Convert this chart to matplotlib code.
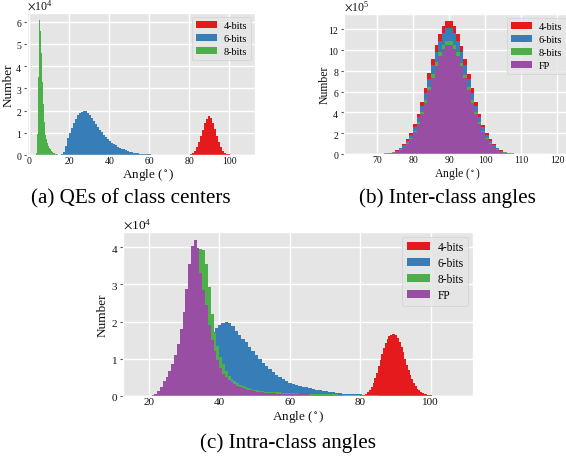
import numpy as np
import matplotlib
matplotlib.use('Agg')
import matplotlib.pyplot as plt

plt.style.use('ggplot')
plt.rcParams['font.family'] = 'serif'
plt.rcParams['font.serif'] = ['Liberation Serif', 'DejaVu Serif']
plt.rcParams['mathtext.fontset'] = 'stix'

labels = ['4-bits', '6-bits', '8-bits', 'FP']
colors = ['#e41a1c', '#377eb8', '#4daf4a', '#984ea3']

# ---- (a) QEs of class centers, counts in 1e4 ----
a_red_start, a_red_w = 77.5, 1.0
a_red = [0.005, 0.01, 0.02, 0.04, 0.1, 0.2, 0.38, 0.6, 0.86, 1.14, 1.42, 1.64, 1.74, 1.66,
         1.44, 1.15, 0.85, 0.58, 0.36, 0.2, 0.1, 0.05, 0.025, 0.012, 0.008, 0.006, 0.005,
         0.004, 0.003, 0.003]
a_blue_start, a_blue_w = 15.0, 1.0
a_blue = [0.01, 0.03, 0.15, 0.4, 0.75, 1.0, 1.22, 1.45, 1.62, 1.78, 1.88, 1.94, 1.97, 1.96,
          1.9, 1.8, 1.68, 1.54, 1.4, 1.26, 1.13, 1.02, 0.92, 0.82, 0.73, 0.64, 0.56, 0.49,
          0.43, 0.38, 0.33, 0.29, 0.25, 0.21, 0.18, 0.15, 0.13, 0.11, 0.09, 0.08, 0.06, 0.05,
          0.04, 0.035, 0.03, 0.025, 0.02, 0.018, 0.015, 0.012, 0.01, 0.008, 0.006, 0.005, 0.004]
a_green_start, a_green_w = 3.35, 0.5
a_green = [0.1, 0.93, 3.5, 6.08, 5.6, 4.6, 3.3, 2.3, 1.5, 0.9, 0.7, 0.55, 0.42, 0.32, 0.25,
           0.19, 0.15, 0.11, 0.08, 0.06, 0.04, 0.03, 0.02]

# ---- (b) Inter-class angles, counts in 1e5 ----
b_start, b_w = 64.0, 1.0
b_red = [0.003, 0.004, 0.005, 0.007, 0.01, 0.015, 0.025,
         0.04, 0.08, 0.14, 0.23, 0.39, 0.61, 0.95, 1.41, 2.04, 2.84, 3.84, 5.01, 6.33, 7.73,
         9.13, 10.44, 11.53, 12.33, 12.75, 12.78, 12.3, 11.5, 10.4, 9.1, 7.7, 6.3, 5.0, 3.82,
         2.83, 2.03, 1.4, 0.94, 0.61, 0.39, 0.23, 0.14, 0.08, 0.04,
         0.025, 0.015, 0.01, 0.007, 0.005, 0.004, 0.003, 0.003, 0.002, 0.002, 0.002, 0.002]
b_blue = [0.003, 0.004, 0.005, 0.007, 0.01, 0.015, 0.025,
          0.035, 0.065, 0.115, 0.2, 0.33, 0.54, 0.84, 1.26, 1.84, 2.59, 3.52, 4.63, 5.88, 7.22,
          8.56, 9.81, 10.87, 11.64, 12.05, 12.08, 11.62, 10.85, 9.8, 8.55, 7.2, 5.87, 4.62, 3.51,
          2.58, 1.83, 1.25, 0.83, 0.53, 0.33, 0.2, 0.115, 0.065, 0.035,
          0.025, 0.015, 0.01, 0.007, 0.005, 0.004, 0.003, 0.003, 0.002, 0.002, 0.002, 0.002]
b_green = [0.003, 0.004, 0.005, 0.007, 0.01, 0.015, 0.025,
           0.03, 0.05, 0.09, 0.16, 0.27, 0.45, 0.7, 1.07, 1.58, 2.24, 3.07, 4.06, 5.19, 6.41,
           7.64, 8.79, 9.77, 10.48, 10.85, 10.88, 10.46, 9.75, 8.78, 7.62, 6.4, 5.18, 4.05, 3.06,
           2.23, 1.57, 1.06, 0.7, 0.45, 0.27, 0.16, 0.09, 0.05, 0.03,
           0.025, 0.015, 0.01, 0.007, 0.005, 0.004, 0.003, 0.003, 0.002, 0.002, 0.002, 0.002]
b_purple = [0.003, 0.004, 0.005, 0.007, 0.01, 0.015, 0.02,
            0.023, 0.044, 0.08, 0.14, 0.25, 0.41, 0.64, 0.99, 1.47, 2.1, 2.89, 3.85, 4.94, 6.12,
            7.31, 8.44, 9.39, 10.09, 10.45, 10.48, 10.07, 9.37, 8.42, 7.3, 6.1, 4.93, 3.84, 2.88,
            2.09, 1.46, 0.98, 0.64, 0.41, 0.25, 0.14, 0.08, 0.044, 0.023,
            0.02, 0.015, 0.01, 0.007, 0.005, 0.004, 0.003, 0.003, 0.002, 0.002, 0.002, 0.002]

# ---- (c) Intra-class angles, counts in 1e4 ----
c_red_start, c_red_w = 80.0, 0.5
c_red = [0.005, 0.01, 0.03, 0.06, 0.1, 0.16, 0.24, 0.36, 0.49, 0.63, 0.8, 0.96, 1.13, 1.28,
         1.42, 1.53, 1.6, 1.64, 1.66, 1.66, 1.64, 1.56, 1.45, 1.32, 1.17, 1.0, 0.84, 0.7, 0.56,
         0.45, 0.35, 0.26, 0.2, 0.15, 0.11, 0.08, 0.06, 0.045, 0.035, 0.025, 0.018, 0.012,
         0.008, 0.006, 0.005, 0.004, 0.003, 0.003, 0.002, 0.002, 0.002, 0.002]
c_blue_start, c_blue_w = 27.3, 0.95
c_blue = [0.02, 0.04, 0.07, 0.13, 0.25, 0.42, 0.65, 0.9, 1.15, 1.38, 1.58, 1.72, 1.83, 1.92,
          1.97, 2.0, 1.96, 1.87, 1.76, 1.65, 1.54, 1.44, 1.33, 1.22, 1.11, 1.0, 0.9, 0.8, 0.72,
          0.64, 0.57, 0.51, 0.45, 0.4, 0.36, 0.33, 0.3, 0.27, 0.25, 0.23, 0.21, 0.19, 0.17,
          0.155, 0.14, 0.125, 0.11, 0.1, 0.085, 0.075, 0.065, 0.058, 0.052, 0.048, 0.045,
          0.043, 0.04, 0.038, 0.035, 0.03, 0.02]
c_green_start, c_green_w = 22.4, 0.8
c_green = [0.02, 0.05, 0.1, 0.17, 0.27, 0.4, 0.55, 0.7, 0.9, 1.15, 1.5, 1.9, 2.4, 3.0, 3.6,
           3.95, 3.92, 3.55, 2.92, 2.2, 1.7, 1.35, 1.04, 0.85, 0.68, 0.55, 0.46, 0.39, 0.34,
           0.3, 0.26, 0.23, 0.21, 0.19, 0.17, 0.15, 0.14, 0.13, 0.12, 0.115,
           0.11, 0.105, 0.1, 0.095, 0.09, 0.085, 0.08, 0.077, 0.074, 0.07, 0.067, 0.064, 0.062,
           0.06, 0.058, 0.056, 0.054, 0.052, 0.05, 0.048, 0.046, 0.045, 0.044, 0.042, 0.04,
           0.038, 0.036, 0.034, 0.032, 0.03, 0.025, 0.02]
c_purple_start, c_purple_w = 20.8, 0.8
c_purple = [0.03, 0.06, 0.13, 0.24, 0.39, 0.5, 0.67, 0.87, 1.1, 1.41, 1.8, 2.27, 2.88, 3.55,
            4.04, 4.2, 3.97, 3.3, 2.85, 2.45, 1.9, 1.5, 1.21, 0.97, 0.76, 0.6,
            0.5, 0.43, 0.37, 0.32, 0.28, 0.25, 0.22, 0.19, 0.17, 0.15, 0.135, 0.12, 0.11, 0.1,
            0.09, 0.085, 0.08, 0.07, 0.065, 0.06, 0.055,
            0.052, 0.05, 0.05, 0.048, 0.046, 0.045, 0.044, 0.043, 0.042, 0.04, 0.04, 0.038,
            0.037, 0.036, 0.035, 0.034, 0.033, 0.032, 0.03, 0.028, 0.02]

captions = ['(a) QEs of class centers', '(b) Inter-class angles', '(c) Intra-class angles']

W, H = 566, 460
fig = plt.figure(figsize=(W / 100, H / 100), dpi=100)


def px_axes(left, top, right, bottom):
    return fig.add_axes([left / W, 1 - bottom / H, (right - left) / W, (bottom - top) / H])


def hist(ax, start, width, values, scale, color, label):
    vals = np.array(values) * scale
    edges = start + width * np.arange(len(vals) + 1)
    ax.stairs(vals, edges, fill=True, color=color, lw=0, label=label)


def finish(ax, xlim, ylim, xticks, yticks, power, tick_fs, lab_fs, leg_fs, xlab_pos, ylab_x):
    ax.set_xlim(xlim)
    ax.set_ylim(ylim)
    ax.set_xticks(xticks)
    ax.set_yticks(yticks)
    ax.ticklabel_format(axis='y', style='sci', scilimits=(power, power), useMathText=True)
    ax.tick_params(labelsize=tick_fs, labelcolor='#111111', color='#555555')
    ax.tick_params(axis='x', length=0, pad=0.8)
    ax.tick_params(axis='y', length=2, pad=1.5)
    ax.yaxis.get_offset_text().set_fontsize(tick_fs + 1.5)
    ax.yaxis.get_offset_text().set_color('#111111')
    ax.grid(True, color='white', lw=1.0)
    ax.set_axisbelow(True)
    ax.set_xlabel('Angle ($^\\circ$)', fontsize=lab_fs, color='#111111')
    ax.set_ylabel('Number', fontsize=lab_fs, color='#111111')
    ax.xaxis.set_label_coords(*xlab_pos)
    ax.yaxis.set_label_coords(ylab_x, 0.5)
    ax.legend(loc='upper right', fontsize=leg_fs, handlelength=2.0, borderpad=0.4,
              labelspacing=0.35, handletextpad=0.65, borderaxespad=0.4)


# (a)
ax1 = px_axes(27, 14, 255, 156)
hist(ax1, a_red_start, a_red_w, a_red, 1e4, colors[0], labels[0])
hist(ax1, a_blue_start, a_blue_w, a_blue, 1e4, colors[1], labels[1])
hist(ax1, a_green_start, a_green_w, a_green, 1e4, colors[2], labels[2])
finish(ax1, (-1.2, 112.8), (0, 6.39e4), range(0, 101, 20), np.arange(0, 7) * 1e4, 4,
       7, 9.5, 7.4, (0.532, -0.078), -0.056)

# (b)
ax2 = px_axes(344, 15, 570, 155)
for vals, c, l in zip([b_red, b_blue, b_green, b_purple], colors, labels):
    hist(ax2, b_start, b_w, vals, 1e5, c, l)
finish(ax2, (60.8, 123.6), (0, 13.44e5), range(70, 121, 10), np.arange(0, 13, 2) * 1e5, 5,
       7, 8.5, 7.4, (0.5, -0.08), -0.058)

# (c)
ax3 = px_axes(123, 233, 473, 397)
hist(ax3, c_red_start, c_red_w, c_red, 1e4, colors[0], labels[0])
hist(ax3, c_blue_start, c_blue_w, c_blue, 1e4, colors[1], labels[1])
hist(ax3, c_green_start, c_green_w, c_green, 1e4, colors[2], labels[2])
hist(ax3, c_purple_start, c_purple_w, c_purple, 1e4, colors[3], labels[3])
finish(ax3, (12.7, 112.0), (0, 4.41e4), range(20, 101, 20), np.arange(0, 5) * 1e4, 4,
       8, 9.5, 8.3, (0.5, -0.075), -0.042)

fig.text(131 / W, 1 - 199 / H, captions[0], ha='center', va='center', fontsize=15.2)
fig.text(447 / W, 1 - 198 / H, captions[1], ha='center', va='center', fontsize=15.2)
fig.text(288 / W, 1 - 443 / H, captions[2], ha='center', va='center', fontsize=15.2)

fig.savefig('out.png', dpi=100)
